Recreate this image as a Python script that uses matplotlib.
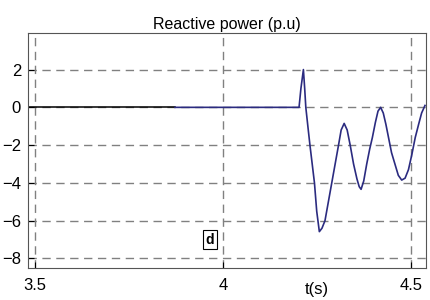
# Reactive power response (p.u) vs time

import matplotlib
matplotlib.use("Agg")
import matplotlib.pyplot as plt

plt.rcParams['font.family'] = ['Liberation Sans Narrow', 'Liberation Sans', 'DejaVu Sans']

# pre-disturbance part (black) and response (blue)
t_pre = [3.48, 3.872]
q_pre = [0.0, 0.0]

t_resp = [3.872, 4.000, 4.100, 4.202, 4.207, 4.2136, 4.217, 4.220, 4.226, 4.231,
          4.237, 4.243, 4.249, 4.256, 4.263, 4.271, 4.280, 4.289, 4.298, 4.307,
          4.314, 4.322, 4.330, 4.338, 4.347, 4.356, 4.362, 4.367, 4.374, 4.382,
          4.390, 4.397, 4.405, 4.412, 4.419, 4.426, 4.433, 4.440, 4.448, 4.457,
          4.466, 4.475, 4.484, 4.493, 4.502, 4.511, 4.520, 4.528, 4.537]
q_resp = [0.0, 0.0, 0.0, 0.0, 1.0, 2.0, 1.0, 0.0, -1.1, -2.0,
          -3.0, -4.0, -5.5, -6.58, -6.4, -6.0, -5.0, -4.0, -3.0, -2.0,
          -1.2, -0.85, -1.2, -2.0, -3.0, -3.79, -4.2, -4.34, -3.9, -3.0,
          -2.2, -1.6, -0.8, -0.2, 0.0, -0.3, -0.9, -1.6, -2.4, -3.0,
          -3.6, -3.85, -3.75, -3.3, -2.5, -1.6, -0.9, -0.3, 0.1]

x_ticks = [3.5, 4, 4.5]
x_tick_labels = ['3.5', '4', '4.5']
y_ticks = [-8, -6, -4, -2, 0, 2]

fig = plt.figure(figsize=(4.3, 3.0), dpi=100)
ax = fig.add_axes([0.065, 0.107, 0.926, 0.782])

ax.plot(t_pre, q_pre, color='black', lw=1.1)
ax.plot(t_resp, q_resp, color='#2b2b80', lw=1.2)

ax.set_xlim(3.481, 4.54)
ax.set_ylim(-8.5, 3.92)
ax.set_xticks(x_ticks)
ax.set_xticklabels(x_tick_labels)
ax.set_yticks(y_ticks)
ax.tick_params(direction='in', length=4, labelsize=12)
ax.tick_params(axis='x', pad=7)
ax.tick_params(axis='y', pad=5)
ax.grid(True, color='#808080', linestyle=(0, (6, 4)), lw=1.0)
for s in ax.spines.values():
    s.set_color('#555555')

ax.set_title('Reactive power (p.u)', fontsize=11.5, pad=3)
ax.text(4.25, -9.65, 't(s)', fontsize=12, ha='center', va='center', clip_on=False)
ax.text(3.965, -7.0, 'd', fontsize=10, fontweight='bold', ha='center', va='center',
        bbox=dict(boxstyle='square,pad=0.2', fc='white', ec='black', lw=0.8))

fig.savefig('out.png', dpi=100)
